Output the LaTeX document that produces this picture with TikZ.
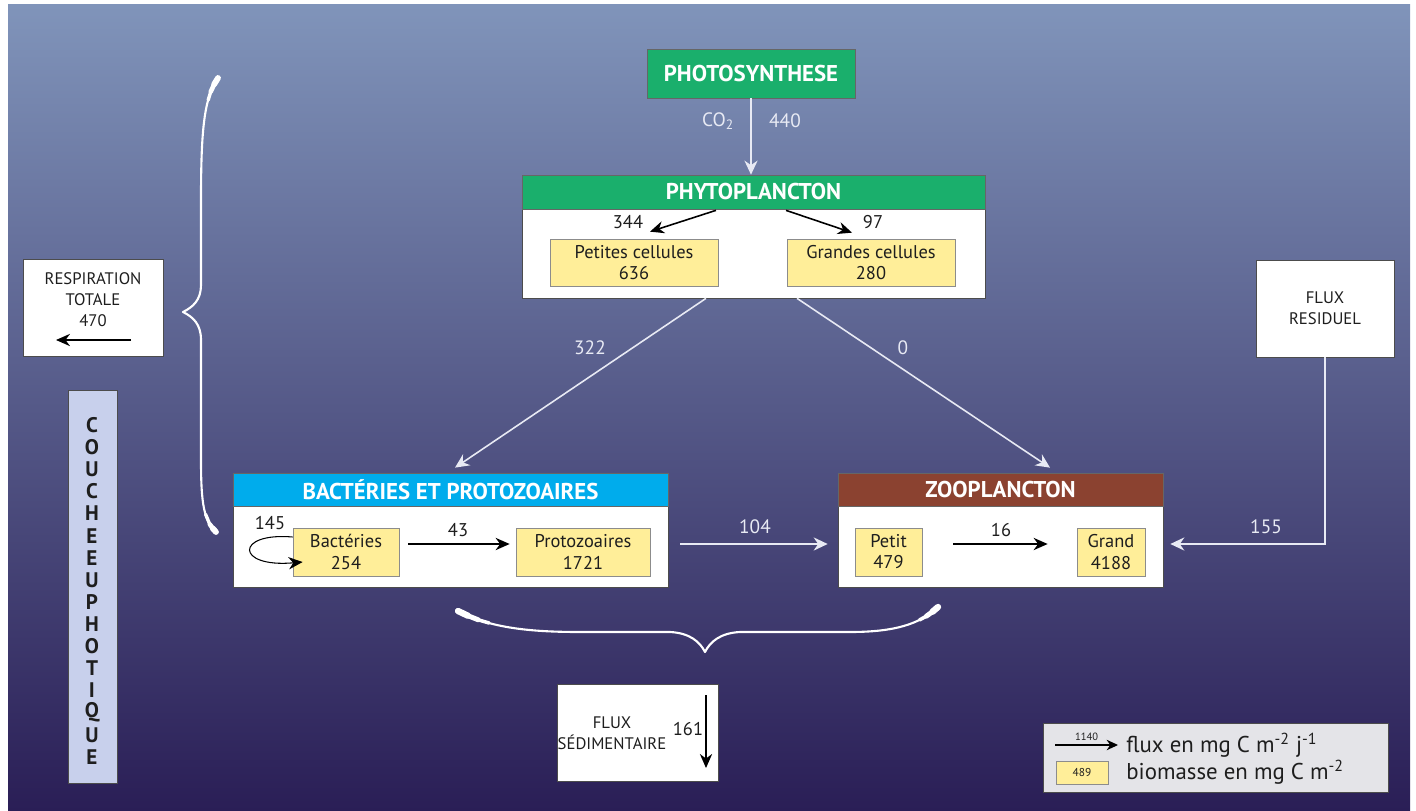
\documentclass[tikz,border=0pt]{standalone}
\usepackage{fontspec}
\setmainfont{PT Sans}
\usetikzlibrary{arrows.meta,positioning}

\definecolor{bgtop}{RGB}{128,148,186}
\definecolor{bgmid}{RGB}{88,96,148}
\definecolor{bgbot}{RGB}{42,30,86}
\definecolor{phgreen}{RGB}{26,175,108}
\definecolor{bactblue}{RGB}{0,172,236}
\definecolor{zoobrown}{RGB}{139,66,48}
\definecolor{biomass}{RGB}{255,238,153}
\definecolor{layerfill}{RGB}{200,208,236}
\definecolor{legendfill}{RGB}{228,228,232}
\definecolor{inktext}{RGB}{30,30,30}
\definecolor{flowwhite}{RGB}{232,234,244}

\newcommand{\hdfont}{\fontsize{13}{15}\selectfont\bfseries}
\newcommand{\bxfont}{\fontsize{10.5}{12}\selectfont}
\newcommand{\cpfont}{\fontsize{9.5}{12}\selectfont}
\newcommand{\flfont}{\fontsize{11}{13}\selectfont}
\newcommand{\lgfont}{\fontsize{13}{15}\selectfont}

\begin{document}
\begin{tikzpicture}[x=0.02cm, y=-0.02cm,
  headbox/.style={rectangle, draw=black!60, fill=#1, text=white,
                  font=\hdfont, inner sep=0pt},
  panel/.style={rectangle, draw=black!70, fill=white, inner sep=0pt},
  biobox/.style={rectangle, draw=black!45, fill=biomass, align=center,
                 font=\bxfont, text=inktext, inner sep=0pt,
                 minimum height=0.96cm},
  notebox/.style={rectangle, draw=black!70, fill=white, inner sep=0pt,
                  font=\cpfont, align=center, text=inktext},
  capsnote/.style={font=\cpfont, align=center, text=inktext},
  tag/.style={font=\bxfont, text=inktext},
  wlabel/.style={font=\flfont, text=flowwhite},
  lgtext/.style={font=\lgfont, text=inktext, anchor=west, inner sep=0pt},
  layerletter/.style={font=\fontsize{12}{14}\selectfont\bfseries, text=inktext},
  wflow/.style={draw=flowwhite, line width=0.9pt,
                -{Stealth[length=8pt,width=7.5pt]}},
  bflow/.style={draw=black, line width=0.9pt,
                -{Stealth[length=8pt,width=7pt]}},
  brace/.style={draw=white, line width=1.2pt, line cap=round, line join=round},
]
  \useasboundingbox (0,0) rectangle (1416,811);
  \shade[top color=bgtop, middle color=bgmid, bottom color=bgbot]
    (8,5) rectangle (1410,811);

  % Photosynthese
  \node[headbox=phgreen, minimum width=4.16cm, minimum height=0.98cm] (photo)
       at (751,73.5) {PHOTOSYNTHESE};

  % Phytoplancton
  \node[panel, minimum width=9.26cm, minimum height=2.46cm] (phyto) at (753.5,236.5) {};
  \node[headbox=phgreen, minimum width=9.26cm, minimum height=0.68cm] (phytoH)
       at (753.5,192) {PHYTOPLANCTON};
  \node[biobox, minimum width=3.36cm, minimum height=0.94cm] (petites)
       at (634,262.5) {Petites cellules\\636};
  \node[biobox, minimum width=3.36cm, minimum height=0.94cm] (grandes)
       at (871,262.5) {Grandes cellules\\280};

  % Bacteries et protozoaires
  \node[panel, minimum width=8.7cm, minimum height=2.28cm] (bact) at (450.5,530) {};
  \node[headbox=bactblue, minimum width=8.7cm, minimum height=0.66cm] (bactH)
       at (450.5,489.5) {BACTÉRIES ET PROTOZOAIRES};
  \node[biobox, minimum width=2.12cm] (bacteries) at (346,552) {Bactéries\\254};
  \node[biobox, minimum width=2.68cm] (protozoaires) at (583,552) {Protozoaires\\1721};

  % Zooplancton
  \node[panel, minimum width=6.5cm, minimum height=2.28cm] (zoo) at (1000.5,530) {};
  \node[headbox=zoobrown, minimum width=6.5cm, minimum height=0.66cm] (zooH)
       at (1000.5,489.5) {ZOOPLANCTON};
  \node[biobox, minimum width=1.34cm] (petit) at (888.5,552) {Petit\\479};
  \node[biobox, minimum width=1.36cm] (grand) at (1111,552) {Grand\\4188};

  % Side boxes
  \node[notebox, minimum width=2.8cm, minimum height=1.94cm] (resp) at (93,307.5) {};
  \node[capsnote] (respT) at (93,300) {RESPIRATION\\TOTALE\\470};
  \node[notebox, minimum width=2.76cm, minimum height=1.94cm] (resid)
       at (1325,308.5) {FLUX\\RESIDUEL};
  \node[notebox, minimum width=3.22cm, minimum height=1.94cm] (sedi) at (637.5,732.5) {};
  \node[capsnote] (sediT) at (612,733) {FLUX\\SÉDIMENTAIRE};
  \node[tag] (f161) at (688,729) {161};

  % Couche euphotique
  \node[rectangle, draw=black!70, fill=layerfill, minimum width=0.98cm,
        minimum height=7.86cm, inner sep=0pt] (couche) at (92.5,586.5) {};
  \foreach \l [count=\i from 0] in {C,O,U,C,H,E,E,U,P,H,O,T,I,Q,U,E}
    \node[layerletter] (c\i) at (92,425+\i*22.13) {\l};

  % Legend
  \node[rectangle, draw=black!70, fill=legendfill, minimum width=6.9cm,
        minimum height=1.38cm, inner sep=0pt] (legend) at (1215.5,757.5) {};
  \coordinate (legA) at (1055,745);
  \coordinate (legB) at (1118,745);
  \node[biobox, minimum width=1.04cm, minimum height=0.46cm,
        font=\fontsize{6.5}{7}\selectfont] (leg489) at (1082,772.5) {489};
  \node[lgtext] (legflux) at (1126,745) {flux en mg C m\textsuperscript{-2} j\textsuperscript{-1}};
  \node[lgtext] (legbio) at (1126,772) {biomasse en mg C m\textsuperscript{-2}};

  % Flows
  \draw[wflow] (photo.south) -- (photo.south |- phytoH.north);
  \node[wlabel] (co2) at (718,121) {CO\textsubscript{2}};
  \node[wlabel] (f440) at (785,121) {440};

  \draw[bflow] ([shift={(-37.5,1)}]phytoH.south) -- ([shift={(16,-7)}]petites.north);
  \node[tag] (f344) at (628,222) {344};
  \draw[bflow] ([shift={(32.5,1)}]phytoH.south) -- ([shift={(-19,-6)}]grandes.north);
  \node[tag] (f97) at (873,222) {97};

  \draw[wflow] ([shift={(-47.5,0)}]phyto.south) -- ([shift={(4.5,-5)}]bactH.north);
  \node[wlabel] (f322) at (590,348) {322};
  \draw[wflow] ([shift={(43.5,0)}]phyto.south) -- ([shift={(49.5,-5)}]zooH.north);
  \node[wlabel] (f0) at (903,348) {0};

  \draw[bflow] ([shift={(9,-8)}]bacteries.east) -- ([shift={(-6,-8)}]protozoaires.west);
  \node[tag] (f43) at (458,530) {43};
  \draw[bflow, line width=0.6pt] ([shift={(0,-15)}]bacteries.west)
    .. controls (235,532) and (235,568) .. ([shift={(10,10)}]bacteries.west);
  \node[tag] (f145) at (270,523) {145};

  \draw[bflow] ([shift={(31,-8)}]petit.east) -- ([shift={(-29,-8)}]grand.west);
  \node[tag] (f16) at (1001,530) {16};

  \draw[wflow] ([shift={(12,14)}]bact.east) -- ([shift={(-10,14)}]zoo.west);
  \node[wlabel] (f104) at (755,527) {104};
  \draw[wflow] (resid.south) |- ([shift={(7,14)}]zoo.east);
  \node[wlabel] (f155) at (1266,527) {155};

  \draw[bflow] ([shift={(38,32.5)}]resp.center) -- ([shift={(-37,32.5)}]resp.center);
  \draw[bflow] ([shift={(68.5,-37.5)}]sedi.center) -- ([shift={(68.5,35.5)}]sedi.center);
  \draw[bflow, line width=0.7pt, -{Stealth[length=6.5pt,width=6pt]}] (legA) -- (legB)
    node[midway, above=-1pt, font=\fontsize{6}{7}\selectfont, text=inktext] (f1140) {1140};

  % Braces
  \draw[brace] (218,78) .. controls (204,98) and (201,130) .. (201,200)
    -- (201,285) .. controls (201,300) and (193,307) .. (183,312)
    .. controls (193,317) and (201,324) .. (201,340)
    -- (201,460) .. controls (201,505) and (204,520) .. (216,532);
  \draw[brace, line width=1.9pt] (218,78) -- (214.1,84.4) -- (210.8,91.6) -- (208.2,100);
  \draw[brace, line width=2.6pt] (218,78) -- (214.1,84.4) -- (210.8,91.6);
  \draw[brace, line width=3.3pt] (218,78) -- (214.1,84.4);
  \draw[brace, line width=1.9pt] (216,532) -- (212.7,528.3) -- (209.8,524.3) -- (205.6,514.3);
  \draw[brace, line width=2.6pt] (216,532) -- (212.7,528.3) -- (209.8,524.3);
  \draw[brace, line width=3.3pt] (216,532) -- (212.7,528.3);

  \draw[brace] (458,611) .. controls (490,628) and (530,632) .. (580,632)
    -- (670,632) .. controls (690,633) and (700,642) .. (705,652)
    .. controls (710,642) and (720,633) .. (740,632)
    -- (850,632) .. controls (895,632) and (920,624) .. (938,607);
  \draw[brace, line width=2pt] (458,611) -- (467.9,615.7) -- (478.2,619.8) -- (489.1,623);
  \draw[brace, line width=2.8pt] (458,611) -- (467.9,615.7) -- (478.2,619.8);
  \draw[brace, line width=3.6pt] (458,611) -- (467.9,615.7);
  \draw[brace, line width=2pt] (938,607) -- (932.4,611.8) -- (926.3,616.2) -- (919.6,619.9);
  \draw[brace, line width=2.8pt] (938,607) -- (932.4,611.8) -- (926.3,616.2);
  \draw[brace, line width=3.6pt] (938,607) -- (932.4,611.8);
\end{tikzpicture}
\end{document}
